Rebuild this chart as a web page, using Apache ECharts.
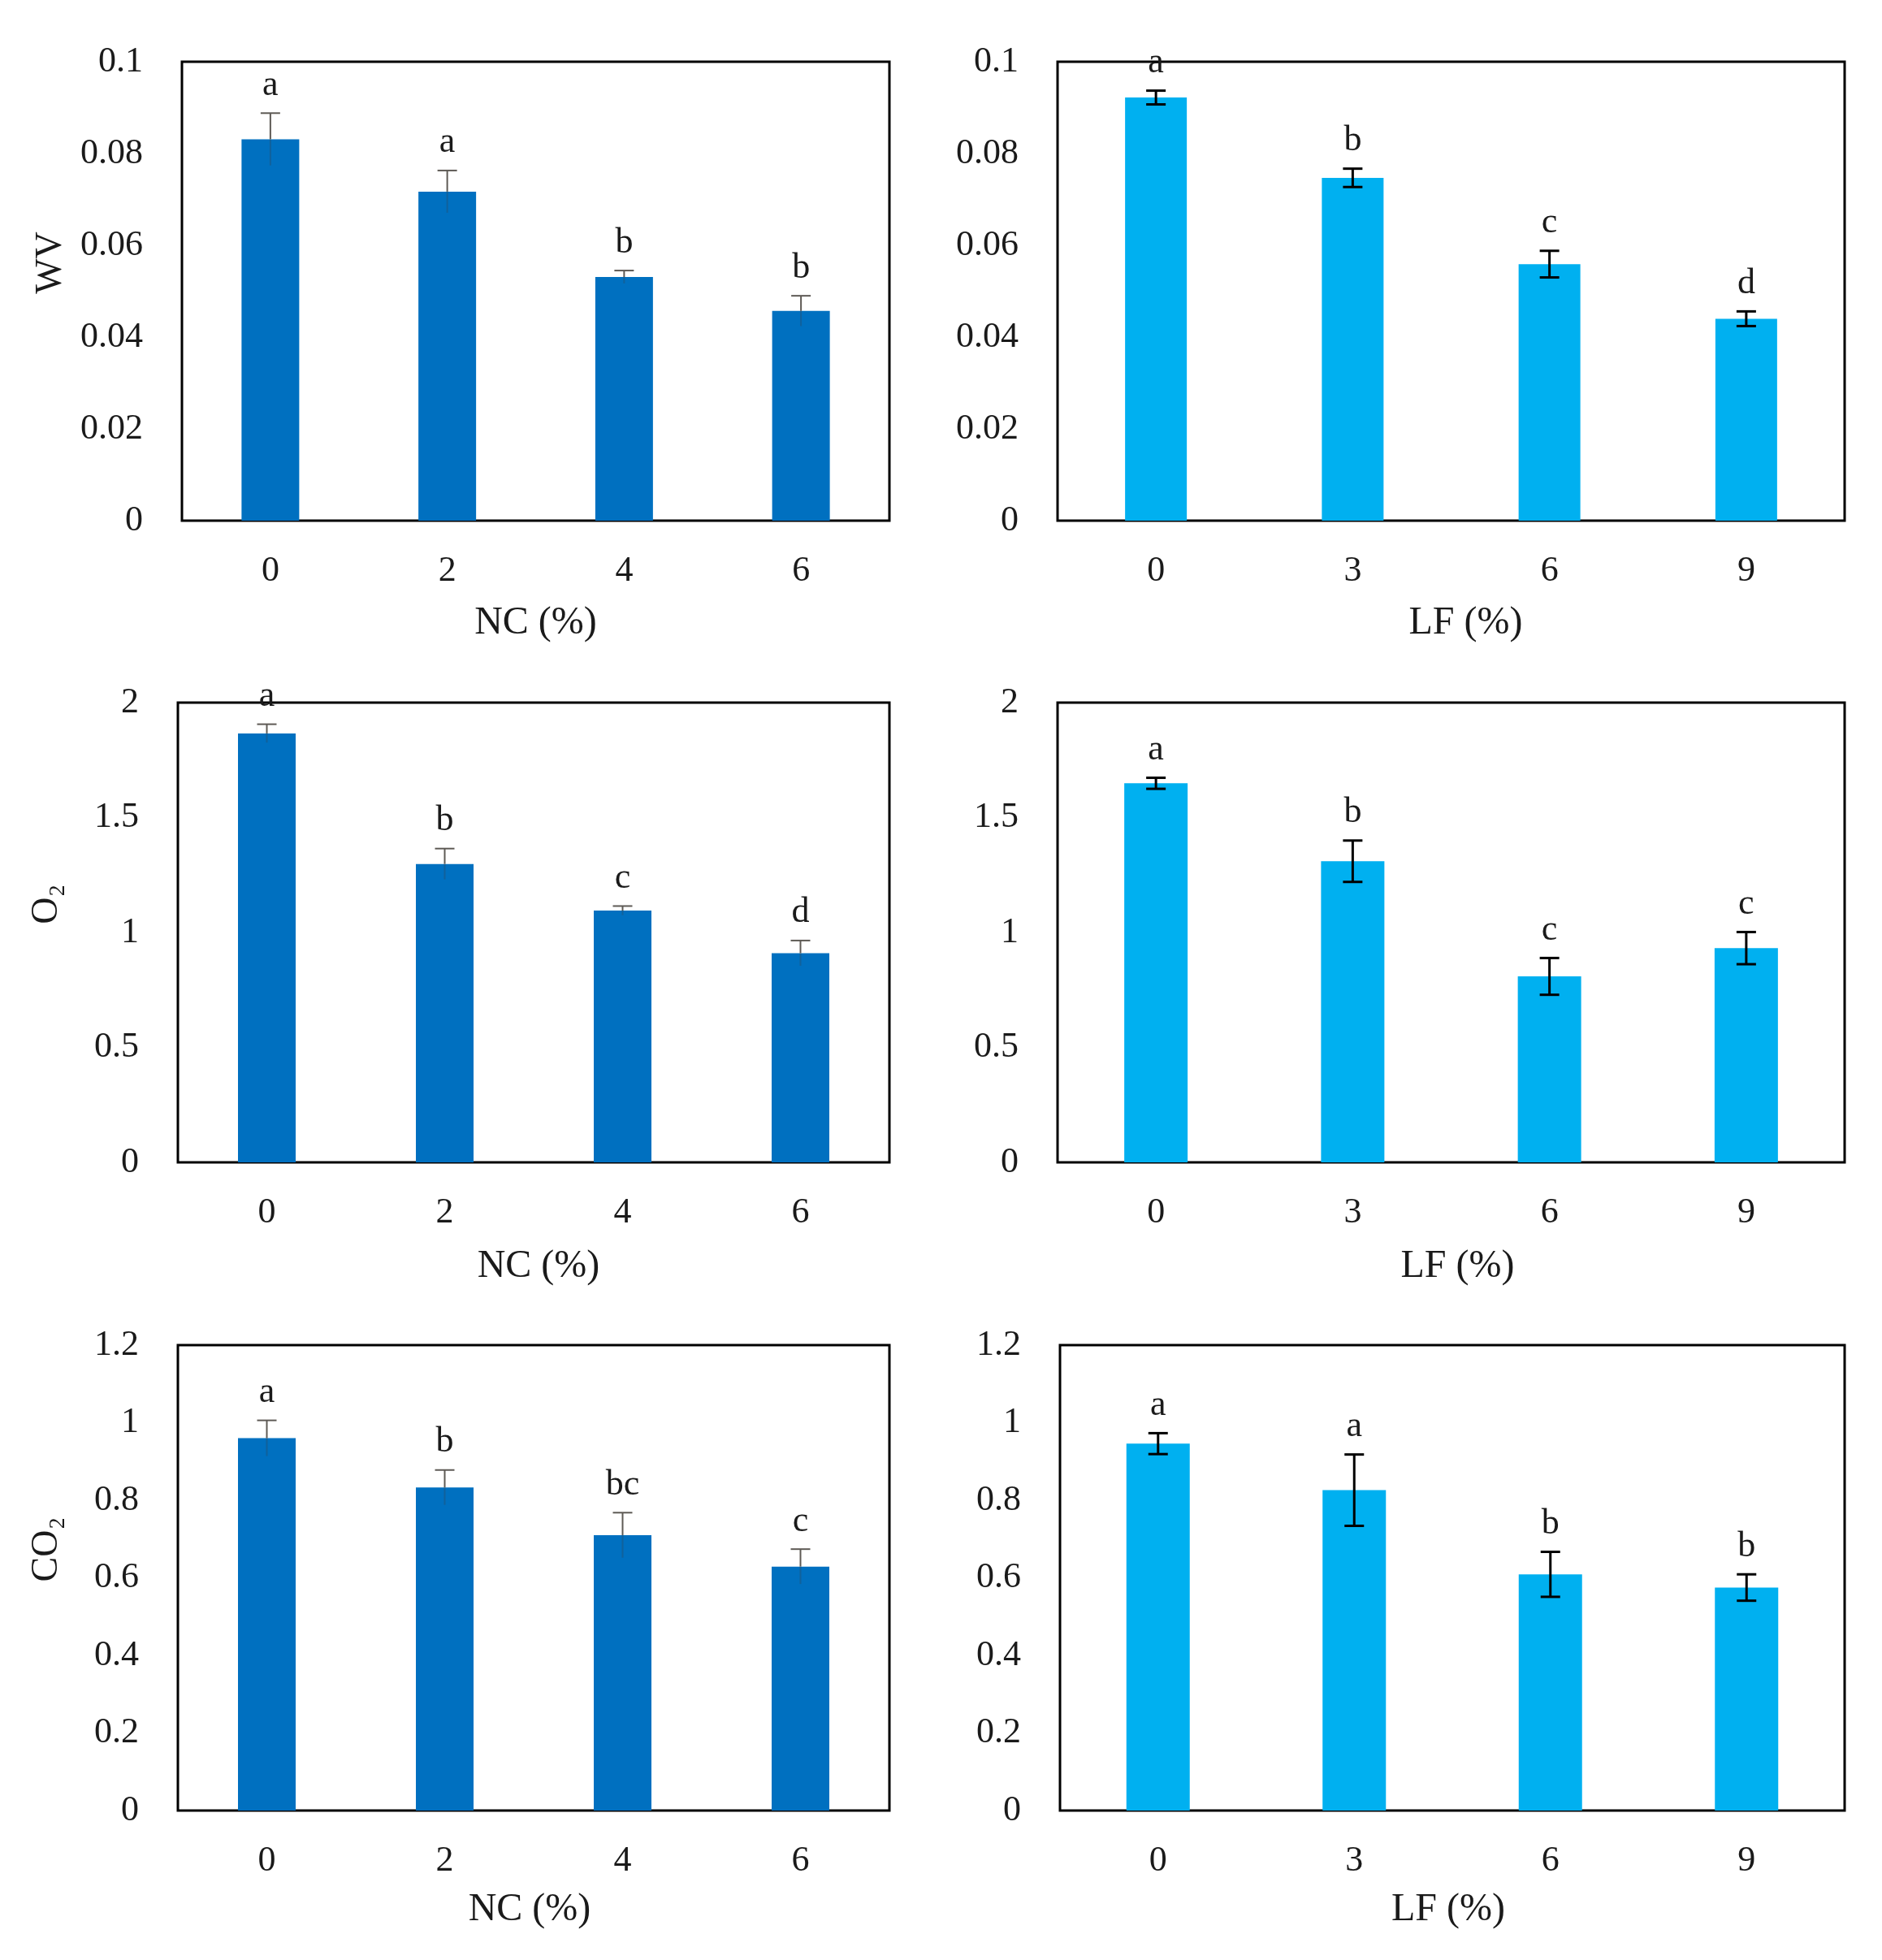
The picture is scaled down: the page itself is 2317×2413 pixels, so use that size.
<!DOCTYPE html>
<html>
<head>
<meta charset="utf-8">
<script src="https://cdn.jsdelivr.net/npm/echarts@6/dist/echarts.min.js"></script>
<style>
html,body{margin:0;padding:0;background:#fff;}
#chart{width:2317px;height:2413px;}
</style>
</head>
<body>
<div id="chart"></div>
<script>
// ---- Data ----
const ncCats = ['0', '2', '4', '6'];
const lfCats = ['0', '3', '6', '9'];

const wvNC = [0.0831, 0.0717, 0.0531, 0.0457];
const wvNCErr = [0.0057, 0.0046, 0.0014, 0.0033];
const wvNCLabels = ['a', 'a', 'b', 'b'];

const wvLF = [0.0922, 0.0747, 0.0559, 0.0440];
const wvLFErr = [0.0015, 0.0020, 0.0029, 0.0016];
const wvLFLabels = ['a', 'b', 'c', 'd'];

const o2NC = [1.866, 1.298, 1.095, 0.910];
const o2NCErr = [0.040, 0.067, 0.020, 0.055];
const o2NCLabels = ['a', 'b', 'c', 'd'];

const o2LF = [1.649, 1.310, 0.809, 0.932];
const o2LFErr = [0.024, 0.090, 0.080, 0.070];
const o2LFLabels = ['a', 'b', 'c', 'c'];

const co2NC = [0.960, 0.833, 0.710, 0.629];
const co2NCErr = [0.046, 0.045, 0.058, 0.045];
const co2NCLabels = ['a', 'b', 'bc', 'c'];

const co2LF = [0.946, 0.826, 0.609, 0.575];
const co2LFErr = [0.027, 0.092, 0.058, 0.034];
const co2LFLabels = ['a', 'a', 'b', 'b'];

const yTicksWV = {min: 0, max: 0.1, interval: 0.02};
const yTicksO2 = {min: 0, max: 2, interval: 0.5};
const yTicksCO2 = {min: 0, max: 1.2, interval: 0.2};

// ---- Layout / style ----
const FONT = '"Liberation Serif", "DejaVu Serif", serif';
const TXT = '#1a1a1a';
const NC_COLOR = '#0070C0';
const LF_COLOR = '#00B0F0';

const panels = [
  {grid: {left: 224, top: 76, width: 871, height: 565}, cats: ncCats, vals: wvNC, errs: wvNCErr, labels: wvNCLabels, ticks: yTicksWV, xName: 'NC (%)', yName: 'WV', color: NC_COLOR, left: true, barW: 71, nameGap: 102, xShift: 0},
  {grid: {left: 1302, top: 76, width: 969, height: 565}, cats: lfCats, vals: wvLF, errs: wvLFErr, labels: wvLFLabels, ticks: yTicksWV, xName: 'LF (%)', yName: '', color: LF_COLOR, left: false, barW: 76, nameGap: 102, xShift: 18},
  {grid: {left: 219, top: 865, width: 876, height: 566}, cats: ncCats, vals: o2NC, errs: o2NCErr, labels: o2NCLabels, ticks: yTicksO2, xName: 'NC (%)', yName: 'O₂', color: NC_COLOR, left: true, barW: 71, nameGap: 104, xShift: 6},
  {grid: {left: 1302, top: 865, width: 969, height: 566}, cats: lfCats, vals: o2LF, errs: o2LFErr, labels: o2LFLabels, ticks: yTicksO2, xName: 'LF (%)', yName: '', color: LF_COLOR, left: false, barW: 78, nameGap: 104, xShift: 8},
  {grid: {left: 219, top: 1656, width: 876, height: 573}, cats: ncCats, vals: co2NC, errs: co2NCErr, labels: co2NCLabels, ticks: yTicksCO2, xName: 'NC (%)', yName: 'CO₂', color: NC_COLOR, left: true, barW: 71, nameGap: 98, xShift: -5},
  {grid: {left: 1305, top: 1656, width: 966, height: 573}, cats: lfCats, vals: co2LF, errs: co2LFErr, labels: co2LFLabels, ticks: yTicksCO2, xName: 'LF (%)', yName: '', color: LF_COLOR, left: false, barW: 78, nameGap: 98, xShift: -5}
];

function makeErrRender(labels, leftStyle) {
  return function (params, api) {
    const i = api.value(0), v = api.value(1), e = api.value(2);
    const p = api.coord([i, v]);
    const pt = api.coord([i, v + e]);
    const pb = api.coord([i, v - e]);
    const cx = p[0];
    const capHalf = 12;
    const children = [];
    if (leftStyle) {
      children.push({type: 'line', shape: {x1: cx, y1: pb[1], x2: cx, y2: p[1]}, style: {stroke: 'rgba(60,60,60,0.28)', lineWidth: 2}});
      children.push({type: 'line', shape: {x1: cx, y1: p[1], x2: cx, y2: pt[1]}, style: {stroke: '#5e5a55', lineWidth: 2}});
      children.push({type: 'line', shape: {x1: cx - capHalf, y1: pt[1], x2: cx + capHalf, y2: pt[1]}, style: {stroke: '#5e5a55', lineWidth: 2}});
    } else {
      children.push({type: 'line', shape: {x1: cx, y1: pb[1], x2: cx, y2: pt[1]}, style: {stroke: '#000', lineWidth: 3}});
      children.push({type: 'line', shape: {x1: cx - capHalf, y1: pt[1], x2: cx + capHalf, y2: pt[1]}, style: {stroke: '#000', lineWidth: 3}});
      children.push({type: 'line', shape: {x1: cx - capHalf, y1: pb[1], x2: cx + capHalf, y2: pb[1]}, style: {stroke: '#000', lineWidth: 3}});
    }
    children.push({
      type: 'text', x: cx, y: pt[1] - 12,
      style: {text: labels[params.dataIndex], font: '44px ' + FONT, fill: TXT, align: 'center', verticalAlign: 'bottom'}
    });
    return {type: 'group', children: children};
  };
}

const option = {
  backgroundColor: '#fff',
  animation: false,
  grid: [], xAxis: [], yAxis: [], series: []
};

panels.forEach(function (pn, k) {
  option.grid.push(Object.assign({show: true, borderColor: '#000', borderWidth: 3, backgroundColor: 'transparent', containLabel: false}, pn.grid));
  const xs = pn.xShift;
  option.xAxis.push({
    type: 'category', gridIndex: k, data: pn.cats,
    axisLine: {show: false}, axisTick: {show: false},
    axisLabel: {fontSize: 44, fontFamily: FONT, color: TXT, margin: 40},
    name: pn.xName, nameLocation: 'middle', nameGap: pn.nameGap,
    nameTextStyle: {fontSize: 48, fontFamily: FONT, color: TXT,
      padding: xs >= 0 ? [0, 0, 0, 2 * xs] : [0, -2 * xs, 0, 0]}
  });
  option.yAxis.push({
    type: 'value', gridIndex: k, min: pn.ticks.min, max: pn.ticks.max, interval: pn.ticks.interval,
    axisLine: {show: false}, axisTick: {show: false}, splitLine: {show: false},
    axisLabel: {fontSize: 44, fontFamily: FONT, color: TXT, margin: 48},
    name: pn.yName, nameLocation: 'middle', nameGap: 138, nameRotate: 90,
    nameTextStyle: {fontSize: 46, fontFamily: FONT, color: TXT, padding: [0, 0, 0, 70]}
  });
  option.series.push({
    type: 'bar', xAxisIndex: k, yAxisIndex: k, data: pn.vals,
    barWidth: pn.barW, itemStyle: {color: pn.color}, z: 2
  });
  option.series.push({
    type: 'custom', xAxisIndex: k, yAxisIndex: k,
    data: pn.vals.map(function (v, i) { return [i, v, pn.errs[i]]; }),
    encode: {x: 0, y: 1},
    renderItem: makeErrRender(pn.labels, pn.left), z: 5, clip: false
  });
});

const chart = echarts.init(document.getElementById('chart'), null, {renderer: 'canvas'});
chart.setOption(option);
</script>
</body>
</html>
